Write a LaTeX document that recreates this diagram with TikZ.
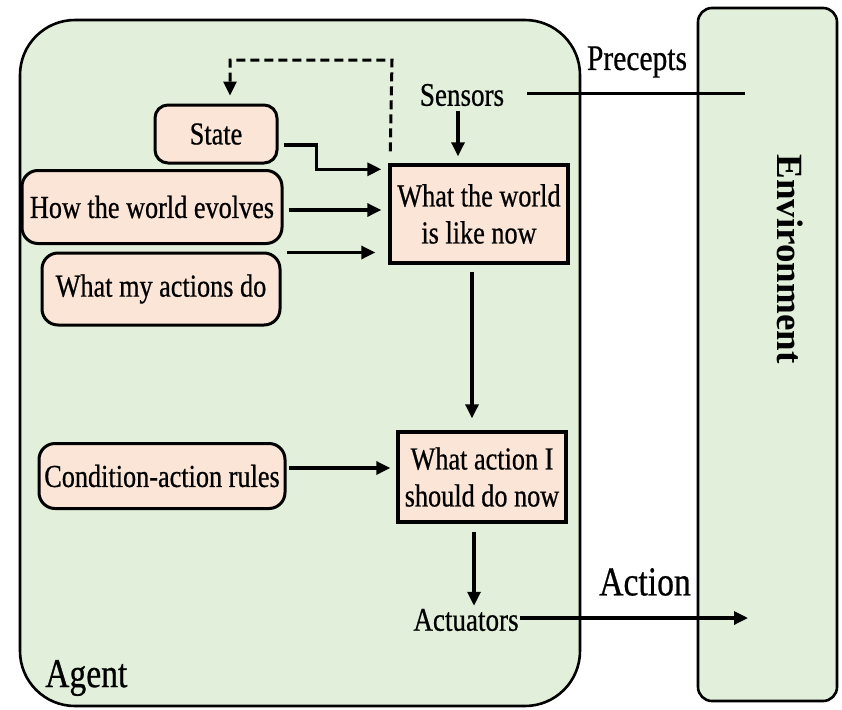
\documentclass[tikz,border=0pt]{standalone}
\usepackage{fontspec}
\setmainfont{Liberation Serif}[FakeStretch=0.82,FakeBold=0.6]
\newfontfamily\wideserif{Liberation Serif}
\usetikzlibrary{arrows.meta}
\definecolor{agentgreen}{HTML}{E2EFDA}
\definecolor{boxpeach}{HTML}{FBE5D6}
\tikzset{
  panel/.style={draw=black,line width=2.6pt,fill=agentgreen},
  memo/.style={draw=black,line width=3pt,fill=boxpeach,rounded corners=13pt,
    inner sep=0pt,align=center,font=\fontsize{32}{37}\selectfont},
  stage/.style={draw=black,line width=3.4pt,fill=boxpeach,inner sep=0pt,
    align=center,font=\fontsize{32}{37}\selectfont},
  tag/.style={inner sep=1pt,font=\fontsize{33}{38}\selectfont},
  bigtag/.style={inner sep=1pt,font=\fontsize{41}{46}\selectfont},
  link/.style={line width=3.2pt,-{Triangle[length=14pt,width=13pt]}},
  plainline/.style={line width=3pt},
}
\begin{document}
\begin{tikzpicture}[x=1pt,y=-1pt]
\useasboundingbox (0,0) rectangle (842,709);
% agent and environment panels
\draw[panel,rounded corners=55pt] (20,20) rectangle (580,706);
\draw[panel,rounded corners=14pt] (698,8) rectangle (837,701);
\node[rotate=-90,font=\wideserif\fontsize{37}{40}\selectfont\bfseries] (env) at (790,259) {Environment};
% internal model boxes
\node[memo,minimum width=122pt,minimum height=58pt] (state) at (216,134) {State};
\node[memo,minimum width=260pt,minimum height=73pt,rounded corners=16pt] (evolves) at (152,207) {How the world evolves};
\node[memo,minimum width=238pt,minimum height=72pt,rounded corners=16pt] (actions) at (161,289) {What my actions do};
\node[memo,minimum width=246pt,minimum height=65pt,rounded corners=16pt] (rules) at (162,476) {Condition-action rules};
\node[stage,minimum width=178pt,minimum height=98pt] (world) at (479,214) {What the world\\is like now};
\node[stage,minimum width=168pt,minimum height=90pt] (choice) at (482,477) {What action I\\should do now};
% sensors, actuators and labels
\node[tag] (sensors) at (462,95) {Sensors};
\node[tag] (actuators) at (466,620) {Actuators};
\node[tag,font=\fontsize{36}{40}\selectfont] (precepts) at (637,62) {Precepts};
\node[bigtag] (actionlbl) at (645,582) {Action};
\node[bigtag,anchor=west] (agentlbl) at (44,678) {Agent};
\coordinate (perceptend) at (745,93);
\coordinate (actionend) at (748,618);
\coordinate (loopcorner) at (392,60);
% percept input
\draw[plainline] ([xshift=22pt,yshift=2pt]sensors.east) -- (perceptend);
\draw[link,shorten >=7pt] ([xshift=-4pt,yshift=-4pt]sensors.south) -- ([xshift=-4pt]sensors.south |- world.north);
% state feedback loop
\draw[line width=3pt,dash pattern=on 9pt off 5pt,-{Triangle[length=14pt,width=13pt]}]
  ([xshift=2pt,yshift=12pt]world.north west) -- (loopcorner) -| ([xshift=14pt,yshift=8pt]state.north);
% inputs to the world model
\draw[link] ([xshift=5pt,yshift=-11pt]state.east) -- ++(33,0) |- ([xshift=-7pt,yshift=-6pt]world.north west);
\draw[link,shorten >=7pt] ([xshift=5pt,yshift=-3pt]evolves.east) -- ([yshift=-3pt]evolves.east -| world.west);
\draw[link,shorten >=13pt] ([xshift=5pt,yshift=-1pt]actions.north east) -- ([yshift=-1pt]actions.north east -| world.west);
% decision chain
\draw[link,shorten <=7pt,shorten >=12pt] ([xshift=-7pt]world.south) -- ([xshift=-7pt]world.south |- choice.north);
\draw[link,shorten <=2pt,shorten >=6pt] ([yshift=8pt]rules.east) -- ([yshift=8pt]rules.east -| choice.west);
\draw[link,shorten <=8pt,shorten >=2pt] ([xshift=-8pt]choice.south) -- ([xshift=-8pt]choice.south |- actuators.north);
\draw[link] ([yshift=2pt]actuators.east) -- (actionend);
\end{tikzpicture}
\end{document}
